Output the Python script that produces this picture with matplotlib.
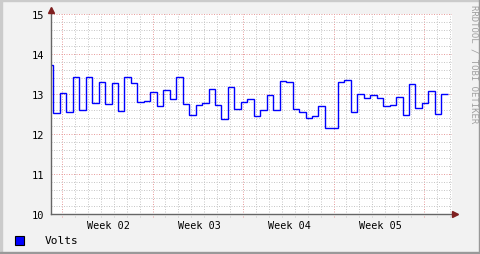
import matplotlib
matplotlib.use("Agg")
import matplotlib.pyplot as plt
from matplotlib.patches import Rectangle
import numpy as np

# 12-hourly voltage readings, first one partly off the left edge
volts = [13.73, 12.52, 13.02, 12.55, 13.42, 12.59, 13.42, 12.78, 13.29, 12.75,
         13.27, 12.57, 13.42, 13.27, 12.80, 12.82, 13.04, 12.69, 13.09, 12.87,
         13.42, 12.74, 12.47, 12.72, 12.77, 13.12, 12.72, 12.37, 13.17, 12.62,
         12.79, 12.87, 12.44, 12.59, 12.97, 12.59, 13.32, 13.29, 12.62, 12.54,
         12.39, 12.44, 12.69, 12.14, 12.14, 13.29, 13.34, 12.54, 12.99, 12.89,
         12.97, 12.89, 12.69, 12.72, 12.92, 12.47, 13.24, 12.64, 12.77, 13.07,
         12.49, 12.99]
first_sample = -7 / 6   # days, relative to start of Week 02
sample_step = 0.5       # days
week_labels = ["Week 02", "Week 03", "Week 04", "Week 05"]
week_label_pos = [3.6, 10.6, 17.6, 24.6]
week_starts = [0, 7, 14, 21, 28]
x_range = (-0.85, 30.16)
y_ticks = [10, 11, 12, 13, 14, 15]

W, H = 481, 255
MONO = "DejaVu Sans Mono"

fig = plt.figure(figsize=(W / 100, H / 100), dpi=100, facecolor="#F2F2F2")
ax = fig.add_axes([51 / W, (H - 215) / H, 401 / W, 200 / H])
ax.set_facecolor("white")

# 3d-ish frame around the image
fig.add_artist(Rectangle((0, 0), 2 / W, 1, transform=fig.transFigure, color="#CBCBCB"))
fig.add_artist(Rectangle((0, 1 - 2 / H), 1, 2 / H, transform=fig.transFigure, color="#CBCBCB"))
fig.add_artist(Rectangle((1 - 2 / W, 0), 2 / W, 1, transform=fig.transFigure, color="#999999"))
fig.add_artist(Rectangle((0, 0), 1, 2 / H, transform=fig.transFigure, color="#999999"))

# grid
dots = (0, (1, 1.5))
for d in range(int(np.ceil(x_range[0])), int(x_range[1]) + 1):
    if d in week_starts:
        continue
    ax.axvline(d, ymin=-0.015, color="#C8C8C8", ls=dots, lw=0.72, clip_on=False, zorder=1)
for d in week_starts:
    ax.axvline(d, ymin=-0.015, color="#E8A0A0", ls=dots, lw=0.72, clip_on=False, zorder=1)
for v in np.arange(10.2, 15, 0.2):
    if abs(v - round(v)) < 1e-6:
        continue
    ax.axhline(v, color="#C8C8C8", ls=dots, lw=0.72, zorder=1)
for v in y_ticks[1:]:
    ax.axhline(v, color="#E8A0A0", ls=dots, lw=0.72, zorder=1)

# data
edges = first_sample + sample_step * np.arange(len(volts) + 1)
ax.stairs(volts, edges, baseline=None, color="#0000FF", lw=1.0, zorder=3)

ax.set_xlim(*x_range)
ax.set_ylim(y_ticks[0], y_ticks[-1])

for s in ["top", "right", "left", "bottom"]:
    ax.spines[s].set_visible(False)

# axes with arrows
axis_col = "#666666"
ax.plot([0, 1.012], [0, 0], transform=ax.transAxes, clip_on=False, color=axis_col, lw=1.0, zorder=4)
ax.plot([0, 0], [0, 1.03], transform=ax.transAxes, clip_on=False, color=axis_col, lw=1.0, zorder=4)
ax.plot([1.0087], [0], marker=">", ms=5, color="#7F1F1F", transform=ax.transAxes, clip_on=False, zorder=5)
ax.plot([0], [1.02], marker="^", ms=5, color="#7F1F1F", transform=ax.transAxes, clip_on=False, zorder=5)

ax.set_yticks(y_ticks)
ax.set_yticklabels([str(v) for v in y_ticks], family=MONO, fontsize=7.5)
ax.set_xticks(week_label_pos)
ax.set_xticklabels(week_labels, family=MONO, fontsize=7.3)
ax.tick_params(axis="both", length=0)
ax.tick_params(axis="y", pad=5)
ax.tick_params(axis="x", pad=4)

# legend
fig.add_artist(Rectangle((15 / W, (H - 246) / H), 9 / W, 9 / H, transform=fig.transFigure,
                         facecolor="#0000FF", edgecolor="black", lw=0.8))
fig.text(45 / W, (H - 241) / H, "Volts", family=MONO, fontsize=8, va="center", ha="left")

# watermark
fig.text(474 / W, 1 - 5 / H, "RRDTOOL / TOBI OETIKER", rotation=270, family=MONO,
         fontsize=6.5, color="#A0A0A0", va="top", ha="center")

fig.savefig("out.png", dpi=100, facecolor=fig.get_facecolor())
